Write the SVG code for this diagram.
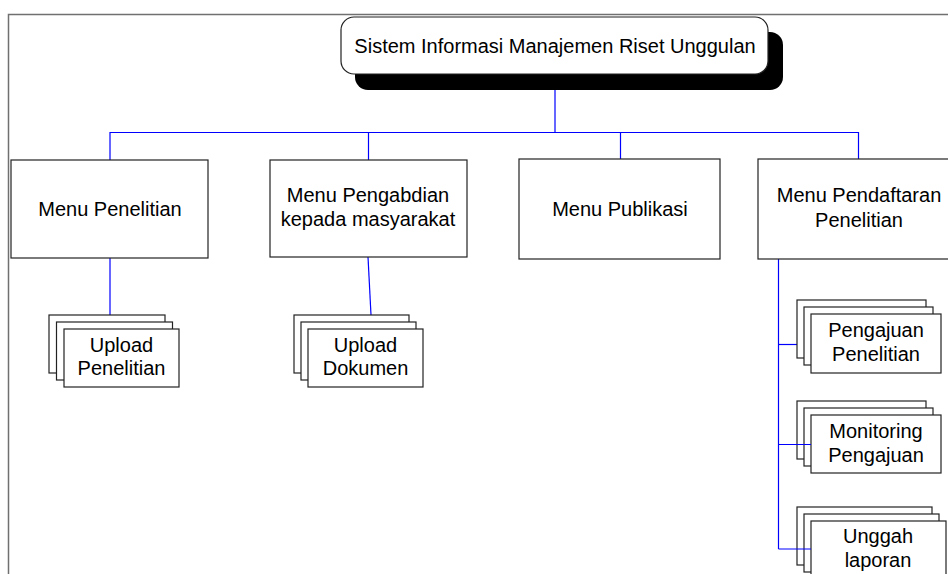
<svg xmlns="http://www.w3.org/2000/svg" width="948" height="574" viewBox="0 0 948 574">
<style>
.box{fill:#fff;stroke:#222;stroke-width:1.2}
.t{font-family:"Liberation Sans",Arial,sans-serif;font-size:20px;fill:#000;text-anchor:middle}
.c{stroke:#0000ff;stroke-width:1.2;fill:none}
</style>
<rect width="948" height="574" fill="#fff"/>
<path d="M8.5,574 V14.5 H948" fill="none" stroke="#707070" stroke-width="1.5"/>
<g id="connectors">
<path class="c" d="M555,74 V132.5 M110,160 V132.5 H858.5 V159 M368.5,132.5 V160 M620.5,132.5 V159"/>
<path class="c" d="M110,258 V315"/>
<path class="c" d="M368,257 L371,315"/>
<path class="c" d="M778.5,259 V549"/>
</g>
<g id="root">
<rect x="355" y="32" width="428" height="58" rx="13" fill="#000"/>
<rect class="box" x="341" y="17" width="427" height="57" rx="13"/>
<text class="t" x="555" y="53">Sistem Informasi Manajemen Riset Unggulan</text>
</g>
<g id="menu-penelitian">
<rect class="box" x="11" y="160" width="197" height="98"/>
<text class="t" x="110" y="216">Menu Penelitian</text>
</g>
<g id="menu-pengabdian">
<rect class="box" x="270" y="160" width="197" height="97"/>
<text class="t" x="368" y="202">Menu Pengabdian</text>
<text class="t" x="368" y="226">kepada masyarakat</text>
</g>
<g id="menu-publikasi">
<rect class="box" x="519" y="159" width="201" height="100"/>
<text class="t" x="620" y="216">Menu Publikasi</text>
</g>
<g id="menu-pendaftaran">
<rect class="box" x="758" y="159" width="202" height="100"/>
<text class="t" x="859" y="202">Menu Pendaftaran</text>
<text class="t" x="859" y="227">Penelitian</text>
</g>
<g id="upload-penelitian">
<rect class="box" x="49" y="315" width="116" height="58"/>
<rect class="box" x="56.5" y="322" width="116" height="58"/>
<rect class="box" x="64" y="329" width="115" height="58"/>
<text class="t" x="121.5" y="352">Upload</text>
<text class="t" x="121.5" y="375">Penelitian</text>
</g>
<g id="upload-dokumen">
<rect class="box" x="294" y="315" width="115" height="58"/>
<rect class="box" x="301" y="322" width="115" height="58"/>
<rect class="box" x="308" y="329" width="115" height="58"/>
<text class="t" x="365.5" y="352">Upload</text>
<text class="t" x="365.5" y="375">Dokumen</text>
</g>
<g id="pengajuan-penelitian">
<path class="c" d="M778.5,344.5 H797"/>
<rect class="box" x="797" y="300" width="129" height="58"/>
<rect class="box" x="804" y="307" width="129" height="58"/>
<rect class="box" x="811" y="314" width="130" height="59"/>
<text class="t" x="876" y="337">Pengajuan</text>
<text class="t" x="876" y="361">Penelitian</text>
</g>
<g id="monitoring-pengajuan">
<rect class="box" x="797" y="401" width="129" height="58"/>
<rect class="box" x="804" y="408" width="129" height="58"/>
<rect class="box" x="811" y="415" width="130" height="58"/>
<path class="c" d="M778.5,444.5 H811"/>
<text class="t" x="876" y="438">Monitoring</text>
<text class="t" x="876" y="462">Pengajuan</text>
</g>
<g id="unggah-laporan">
<rect class="box" x="797" y="507" width="135" height="58"/>
<rect class="box" x="804" y="514" width="135" height="58"/>
<rect class="box" x="811" y="521" width="135" height="58"/>
<path class="c" d="M778.5,549 H811"/>
<text class="t" x="878" y="543">Unggah</text>
<text class="t" x="878" y="567">laporan</text>
</g>
</svg>
